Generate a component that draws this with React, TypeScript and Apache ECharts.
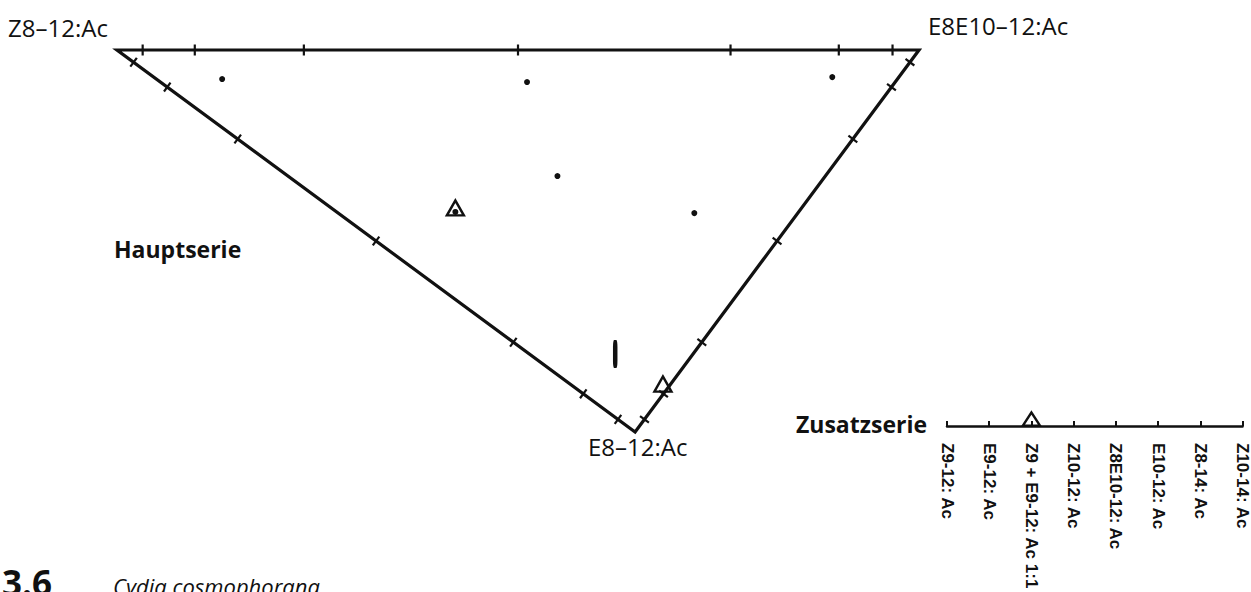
import React, { useEffect, useRef } from "react";
import * as echarts from "echarts";

// Vertex names of the mixing triangle (Hauptserie)
const vertexLabels = ["Z8–12:Ac", "E8E10–12:Ac", "E8–12:Ac"];
// Mixing-ratio ticks along each edge (fraction of the second component)
const tickFractions = [0.032, 0.097, 0.233, 0.5, 0.765, 0.9, 0.967];
// Ternary weights [Z8–12:Ac, E8E10–12:Ac, E8–12:Ac]
const dotPoints = [
  [0.842, 0.082, 0.076],
  [0.459, 0.457, 0.084],
  [0.083, 0.846, 0.071],
  [0.334, 0.336, 0.33],
  [0.129, 0.444, 0.427],
  [0.428, 0.148, 0.424],
];
const trianglePoints = [
  [0.428, 0.148, 0.424],
  [0.006, 0.109, 0.885],
];
const barPoints = [[0.097, 0.107, 0.796]];

// Zusatzserie
const zusatzCategories = [
  "Z9-12: Ac",
  "E9-12: Ac",
  "Z9 + E9-12: Ac 1:1",
  "Z10-12: Ac",
  "Z8E10-12: Ac",
  "E10-12: Ac",
  "Z8-14: Ac",
  "Z10-14: Ac",
];
const zusatzTriangles = ["Z9 + E9-12: Ac 1:1"];

const titleNumber = "3.6";
const titleSpecies = "Cydia cosmophorana";

// layout of the triangle in diagram space
const VERT = [
  [0, 1],
  [1, 1],
  [0.646, 0],
];
const EDGES = [
  [0, 1],
  [0, 2],
  [1, 2],
];

const toXY = (w: number[]) => [
  w[0] * VERT[0][0] + w[1] * VERT[1][0] + w[2] * VERT[2][0],
  w[0] * VERT[0][1] + w[1] * VERT[1][1] + w[2] * VERT[2][1],
];

const INK = "#111111";
const FONT = "'Open Sans', 'Noto Sans', sans-serif";

export default function App() {
  const ref = useRef<HTMLDivElement>(null);
  useEffect(() => {
    document.body.style.margin = "0";
    document.body.style.overflow = "hidden";
    const chart = echarts.init(ref.current!, null, { renderer: "svg" });

    const tickData: number[][] = [];
    EDGES.forEach((_, ei) => tickFractions.forEach((f) => tickData.push([ei, f])));

    const text = (
      t: string,
      x: number,
      y: number,
      size: number,
      weight: string = "normal",
      style: string = "normal"
    ) => ({
      type: "text",
      x,
      y,
      style: {
        text: t,
        fill: INK,
        font: `${style} ${weight} ${size}px ${FONT}`,
        textAlign: "left",
        textVerticalAlign: "middle",
      },
    });

    chart.setOption({
      animation: false,
      backgroundColor: "#ffffff",
      grid: [
        { left: 117, top: 50, width: 802, height: 382 },
        { left: 947, top: 400, width: 296, height: 33 },
      ],
      xAxis: [
        { gridIndex: 0, type: "value", min: 0, max: 1, show: false },
        {
          gridIndex: 1,
          type: "category",
          data: zusatzCategories,
          boundaryGap: false,
          axisLine: { show: true, lineStyle: { color: INK, width: 2.5 } },
          axisTick: {
            show: true,
            inside: true,
            length: 5,
            alignWithLabel: true,
            lineStyle: { color: INK, width: 2 },
          },
          axisLabel: {
            show: true,
            interval: 0,
            rotate: -90,
            margin: 17,
            color: INK,
            fontSize: 17,
            fontWeight: "bold",
            fontFamily: "'Liberation Sans', Arial, sans-serif",
          },
          splitLine: { show: false },
        },
      ],
      yAxis: [
        { gridIndex: 0, type: "value", min: 0, max: 1, show: false },
        { gridIndex: 1, type: "value", min: 0, max: 1, show: false },
      ],
      graphic: [
        text(vertexLabels[0], 8, 27, 24),
        text(vertexLabels[1], 928, 25, 24),
        text(vertexLabels[2], 588, 446, 24),
        text("Hauptserie", 114, 249, 23, "bold"),
        text("Zusatzserie", 796, 424, 23, "bold"),
        text(titleNumber, 2, 582, 35, "bold"),
        text(titleSpecies, 113, 586, 22, "normal", "italic"),
      ],
      series: [
        {
          type: "custom",
          xAxisIndex: 0,
          yAxisIndex: 0,
          data: [[0]],
          renderItem: (params: any, api: any) => ({
            type: "polygon",
            shape: { points: VERT.map((v) => api.coord(v)) },
            style: { fill: "none", stroke: INK, lineWidth: 3.2, lineJoin: "miter" },
          }),
          z: 2,
        },
        {
          type: "custom",
          xAxisIndex: 0,
          yAxisIndex: 0,
          data: tickData,
          renderItem: (params: any, api: any) => {
            const e = api.value(0);
            const f = api.value(1);
            const [s, t] = EDGES[e];
            const p0 = api.coord(VERT[s]);
            const p1 = api.coord(VERT[t]);
            const px = p0[0] + (p1[0] - p0[0]) * f;
            const py = p0[1] + (p1[1] - p0[1]) * f;
            const dx = p1[0] - p0[0];
            const dy = p1[1] - p0[1];
            const len = Math.hypot(dx, dy);
            const nx = -dy / len;
            const ny = dx / len;
            const h = 5.5;
            return {
              type: "line",
              shape: { x1: px - nx * h, y1: py - ny * h, x2: px + nx * h, y2: py + ny * h },
              style: { stroke: INK, lineWidth: 2.2 },
            };
          },
          z: 3,
        },
        {
          type: "scatter",
          xAxisIndex: 0,
          yAxisIndex: 0,
          data: trianglePoints.map(toXY),
          symbol: "triangle",
          symbolSize: [17, 15],
          symbolOffset: [0, -4],
          itemStyle: { color: "rgba(255,255,255,0)", borderColor: INK, borderWidth: 2.4, opacity: 1 },
          z: 4,
        },
        {
          type: "scatter",
          xAxisIndex: 0,
          yAxisIndex: 0,
          data: dotPoints.map(toXY),
          symbol: "circle",
          symbolSize: 6,
          itemStyle: { color: INK, opacity: 1 },
          z: 5,
        },
        {
          type: "scatter",
          xAxisIndex: 0,
          yAxisIndex: 0,
          data: barPoints.map(toXY),
          symbol: "roundRect",
          symbolSize: [4.5, 28],
          itemStyle: { color: INK, opacity: 1 },
          z: 5,
        },
        {
          type: "scatter",
          xAxisIndex: 1,
          yAxisIndex: 1,
          data: zusatzTriangles.map((c) => [c, 0]),
          symbol: "triangle",
          symbolSize: [17, 13],
          symbolOffset: [0, -7],
          itemStyle: { color: "rgba(255,255,255,0)", borderColor: INK, borderWidth: 2.2, opacity: 1 },
          z: 5,
        },
      ],
    });
    return () => chart.dispose();
  }, []);
  return <div ref={ref} style={{ width: 1251, height: 592 }} />;
}
